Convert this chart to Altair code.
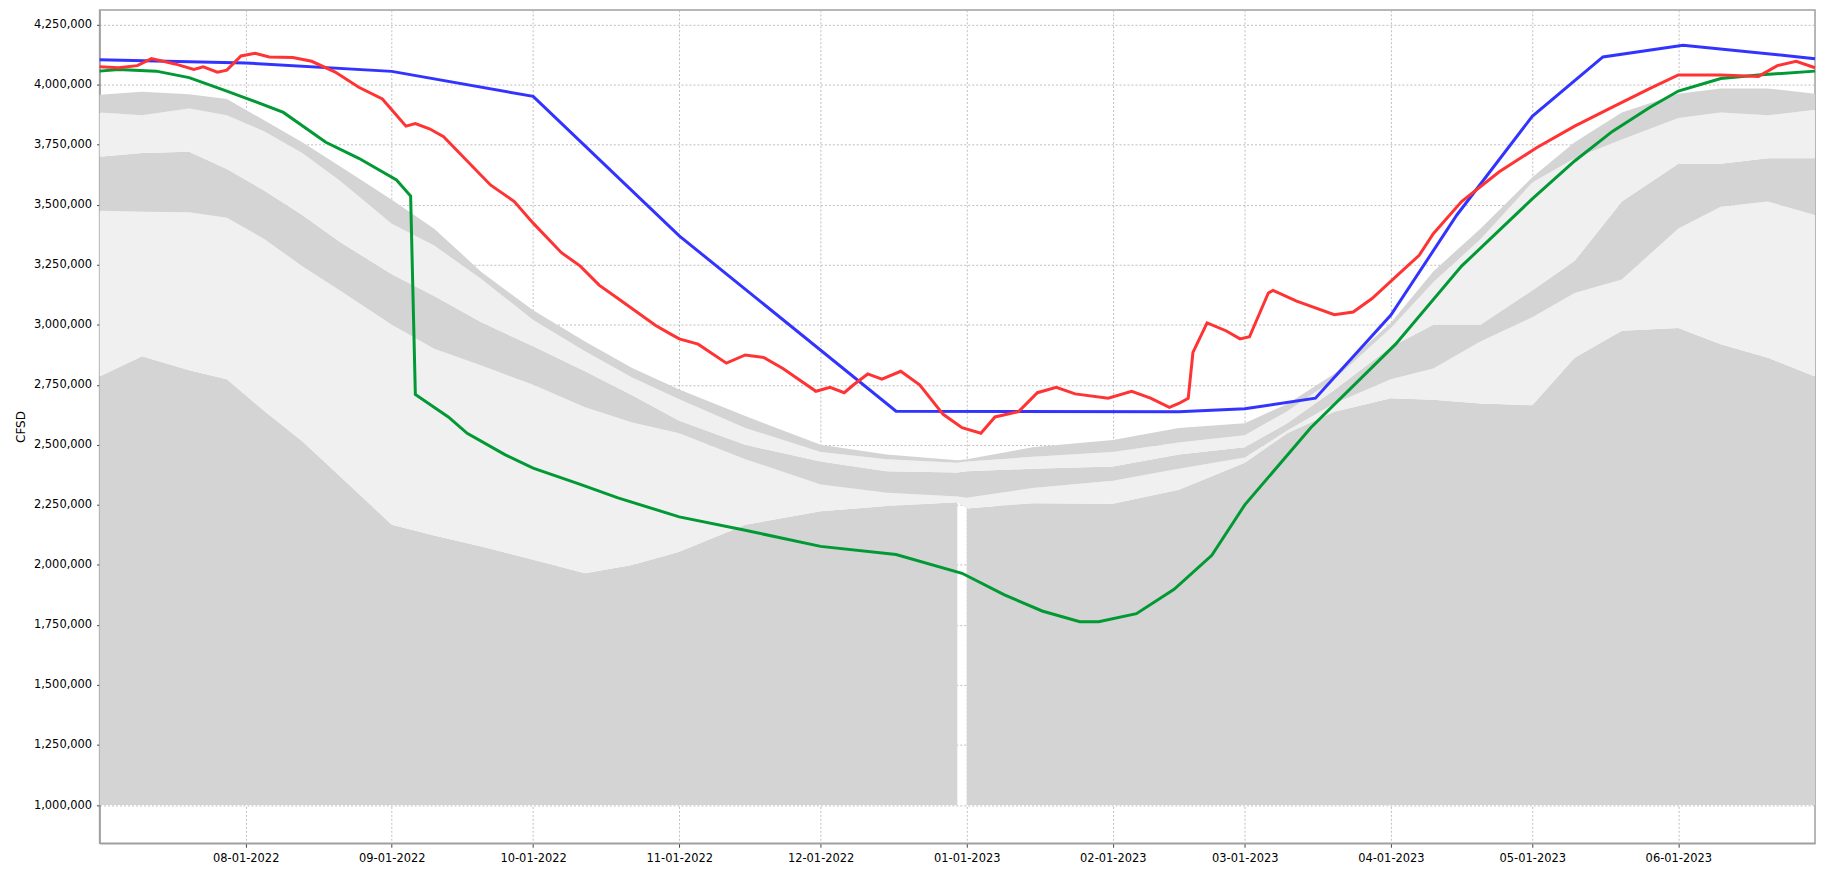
import altair as alt
import pandas as pd

# ---------------- data (values in millions of CFSD) ----------------
band_dates = ["2022-07-01", "2022-07-10", "2022-07-20", "2022-07-28", "2022-08-05",
              "2022-08-13", "2022-08-21", "2022-09-01", "2022-09-10", "2022-09-20",
              "2022-10-01", "2022-10-12", "2022-10-22", "2022-11-01", "2022-11-15",
              "2022-12-01", "2022-12-15", "2022-12-30", "2023-01-01", "2023-01-15",
              "2023-02-01", "2023-02-15", "2023-03-01", "2023-03-10", "2023-03-20",
              "2023-04-01", "2023-04-10", "2023-04-20", "2023-05-01", "2023-05-10",
              "2023-05-20", "2023-06-01", "2023-06-10", "2023-06-20", "2023-06-30"]
band_floor = 1.0
band_edge_1 = [2.784, 2.869, 2.81, 2.773, 2.64, 2.515, 2.369, 2.167, 2.122, 2.077,
               2.021, 1.965, 1.999, 2.055, 2.167, 2.223, 2.245, 2.261, 2.235, 2.257,
               2.255, 2.313, 2.425, 2.548, 2.638, 2.694, 2.688, 2.672, 2.665, 2.863,
               2.975, 2.986, 2.919, 2.863, 2.784]
band_edge_2 = [3.475, 3.47, 3.468, 3.446, 3.356, 3.244, 3.143, 3.0, 2.90, 2.83,
               2.75, 2.656, 2.593, 2.548, 2.44, 2.335, 2.30, 2.285, 2.28, 2.32,
               2.35, 2.40, 2.447, 2.56, 2.672, 2.773, 2.818, 2.93, 3.031, 3.132,
               3.188, 3.401, 3.491, 3.513, 3.457]
band_edge_3 = [3.70, 3.715, 3.72, 3.648, 3.558, 3.457, 3.345, 3.21, 3.12, 3.01,
               2.91, 2.806, 2.706, 2.60, 2.50, 2.43, 2.39, 2.385, 2.39, 2.40,
               2.41, 2.46, 2.49, 2.59, 2.728, 2.907, 3.0, 3.0, 3.143, 3.266,
               3.513, 3.67, 3.67, 3.693, 3.693]
band_edge_4 = [3.884, 3.872, 3.90, 3.872, 3.805, 3.715, 3.60, 3.42, 3.33, 3.19,
               3.02, 2.89, 2.78, 2.69, 2.57, 2.47, 2.44, 2.425, 2.43, 2.45,
               2.47, 2.51, 2.54, 2.64, 2.773, 2.986, 3.177, 3.356, 3.592, 3.693,
               3.771, 3.861, 3.884, 3.872, 3.895]
band_edge_5 = [3.958, 3.97, 3.96, 3.94, 3.85, 3.76, 3.66, 3.52, 3.40, 3.22,
               3.06, 2.93, 2.82, 2.73, 2.62, 2.50, 2.46, 2.436, 2.44, 2.49,
               2.52, 2.57, 2.59, 2.67, 2.796, 3.008, 3.222, 3.40, 3.614, 3.76,
               3.884, 3.962, 3.984, 3.984, 3.962]
bottom_band_missing_day = "2022-12-31"

blue_dates = ["2022-07-01", "2022-08-01", "2022-09-01", "2022-10-01", "2022-11-01",
              "2022-12-17", "2023-02-15", "2023-03-01", "2023-03-16", "2023-04-01",
              "2023-04-15", "2023-05-01", "2023-05-16", "2023-06-02", "2023-06-30"]
blue_values = [4.103, 4.09, 4.055, 3.951, 3.37, 2.64, 2.638, 2.65, 2.694, 3.04,
               3.457, 3.868, 4.115, 4.164, 4.108]

green_dates = ["2022-07-01", "2022-07-05", "2022-07-13", "2022-07-20", "2022-07-28",
               "2022-08-01", "2022-08-09", "2022-08-18", "2022-08-25", "2022-09-02",
               "2022-09-05", "2022-09-06", "2022-09-13", "2022-09-17", "2022-09-25",
               "2022-10-01", "2022-10-11", "2022-10-19", "2022-11-01", "2022-11-15",
               "2022-12-01", "2022-12-17", "2022-12-31", "2023-01-09", "2023-01-17",
               "2023-01-25", "2023-01-29", "2023-02-06", "2023-02-14", "2023-02-22",
               "2023-03-01", "2023-03-15", "2023-04-02", "2023-04-16", "2023-05-01",
               "2023-05-10", "2023-05-18", "2023-05-26", "2023-06-01", "2023-06-10",
               "2023-06-18", "2023-06-30"]
green_values = [4.056, 4.063, 4.056, 4.029, 3.973, 3.944, 3.884, 3.76, 3.693, 3.603,
                3.536, 2.71, 2.616, 2.548, 2.459, 2.403, 2.335, 2.279, 2.20, 2.144,
                2.077, 2.043, 1.965, 1.875, 1.808, 1.763, 1.763, 1.797, 1.898, 2.04,
                2.25, 2.571, 2.919, 3.244, 3.524, 3.682, 3.805, 3.906, 3.973, 4.025,
                4.04, 4.056]

red_dates = ["2022-07-01", "2022-07-05", "2022-07-09", "2022-07-12", "2022-07-17",
             "2022-07-21", "2022-07-23", "2022-07-26", "2022-07-28", "2022-07-31",
             "2022-08-03", "2022-08-06", "2022-08-11", "2022-08-15", "2022-08-20",
             "2022-08-25", "2022-08-30", "2022-09-02", "2022-09-04", "2022-09-06",
             "2022-09-09", "2022-09-12", "2022-09-17", "2022-09-22", "2022-09-27",
             "2022-10-01", "2022-10-07", "2022-10-11", "2022-10-15", "2022-10-19",
             "2022-10-23", "2022-10-27", "2022-10-30", "2022-11-01", "2022-11-05",
             "2022-11-11", "2022-11-15", "2022-11-19", "2022-11-23", "2022-11-30",
             "2022-12-03", "2022-12-06", "2022-12-08", "2022-12-11", "2022-12-14",
             "2022-12-18", "2022-12-22", "2022-12-27", "2022-12-31", "2023-01-04",
             "2023-01-07", "2023-01-12", "2023-01-16", "2023-01-20", "2023-01-24",
             "2023-01-31", "2023-02-05", "2023-02-09", "2023-02-13", "2023-02-15",
             "2023-02-17", "2023-02-18", "2023-02-21", "2023-02-25", "2023-02-28",
             "2023-03-02", "2023-03-06", "2023-03-07", "2023-03-12", "2023-03-20",
             "2023-03-24", "2023-03-28", "2023-04-02", "2023-04-07", "2023-04-10",
             "2023-04-16", "2023-04-24", "2023-05-02", "2023-05-10", "2023-05-18",
             "2023-05-26", "2023-06-01", "2023-06-10", "2023-06-18", "2023-06-22",
             "2023-06-26", "2023-06-30"]
red_values = [4.074, 4.07, 4.079, 4.108, 4.086, 4.063, 4.074, 4.052, 4.06, 4.119,
              4.13, 4.115, 4.113, 4.097, 4.052, 3.989, 3.94, 3.872, 3.827, 3.838,
              3.816, 3.783, 3.682, 3.581, 3.513, 3.423, 3.30, 3.244, 3.165, 3.109,
              3.053, 2.997, 2.963, 2.941, 2.919, 2.84, 2.874, 2.863, 2.818, 2.723,
              2.739, 2.717, 2.75, 2.795, 2.773, 2.806, 2.75, 2.627, 2.571, 2.548,
              2.616, 2.638, 2.717, 2.739, 2.712, 2.694, 2.723, 2.694, 2.656, 2.672,
              2.694, 2.885, 3.008, 2.975, 2.941, 2.95, 3.132, 3.143, 3.098, 3.042,
              3.053, 3.109, 3.199, 3.289, 3.379, 3.513, 3.637, 3.738, 3.827, 3.906,
              3.984, 4.04, 4.04, 4.034, 4.079, 4.097, 4.07]

y_tick_values = [1000000, 1250000, 1500000, 1750000, 2000000, 2250000, 2500000,
                 2750000, 3000000, 3250000, 3500000, 3750000, 4000000, 4250000]
x_tick_months = [(2022, 8), (2022, 9), (2022, 10), (2022, 11), (2022, 12), (2023, 1),
                 (2023, 2), (2023, 3), (2023, 4), (2023, 5), (2023, 6)]

# ---------------- tables ----------------
M = 1_000_000
bands = pd.DataFrame({
    "date": pd.to_datetime(band_dates),
    "floor": band_floor * M,
    "e1": [v * M for v in band_edge_1],
    "e2": [v * M for v in band_edge_2],
    "e3": [v * M for v in band_edge_3],
    "e4": [v * M for v in band_edge_4],
    "e5": [v * M for v in band_edge_5],
})
bands["seg"] = (bands["date"] > pd.Timestamp(bottom_band_missing_day)).astype(int)

def series(dates, values):
    return pd.DataFrame({"date": pd.to_datetime(dates), "v": [v * M for v in values]})

blue = series(blue_dates, blue_values)
green = series(green_dates, green_values)
red = series(red_dates, red_values)

# ---------------- scales / axes ----------------
x_scale = alt.Scale(domain=[alt.DateTime(year=2022, month=7, date=1),
                            alt.DateTime(year=2023, month=6, date=30)])
y_scale = alt.Scale(domain=[841000, 4311000], nice=False, zero=False)

x_axis = alt.Axis(values=[alt.DateTime(year=y, month=m, date=1) for y, m in x_tick_months],
                  format="%m-%d-%Y", title=None, grid=True, tickSize=4,
                  labelPadding=5, labelFlush=False, labelOverlap=False)
y_axis = alt.Axis(values=y_tick_values, format=",d", title="CFSD", grid=True,
                  tickSize=3, labelPadding=5, titlePadding=6, labelOverlap=False)

X = alt.X("date:T", scale=x_scale, axis=x_axis)

DARK = "#d4d4d4"
LIGHT = "#f0f0f0"

def band(lo, hi, color, detail=False):
    enc = dict(x=X, y=alt.Y(f"{lo}:Q", scale=y_scale, axis=y_axis), y2=f"{hi}:Q")
    if detail:
        enc["detail"] = "seg:N"
    return alt.Chart(bands).mark_area(color=color, opacity=1).encode(**enc)

def line(df, color):
    return alt.Chart(df).mark_line(color=color, strokeWidth=3).encode(
        x=X, y=alt.Y("v:Q", scale=y_scale, axis=y_axis))

chart = alt.layer(
    band("floor", "e1", DARK, detail=True),
    band("e1", "e2", LIGHT),
    band("e2", "e3", DARK),
    band("e3", "e4", LIGHT),
    band("e4", "e5", DARK),
    line(blue, "#3333ff"),
    line(green, "#009933"),
    line(red, "#ff3333"),
).properties(
    width=1723, height=837,
    autosize=alt.AutoSizeParams(type="none"),
    padding={"left": 92, "top": 0, "right": 6, "bottom": 26},
).configure_view(
    stroke="#a0a0a0", strokeWidth=1.5
).configure_axis(
    gridColor="#bdbdbd", gridDash=[2, 2], gridWidth=1,
    domainColor="#a0a0a0", domainWidth=1.5,
    tickColor="#404040",
    labelFont="DejaVu Sans", labelFontSize=11.5, labelColor="#000000",
    titleFont="DejaVu Sans", titleFontSize=12, titleFontWeight="normal", titleColor="#000000",
)

chart.save("out.html", embed_options={"renderer": "svg", "actions": False})
